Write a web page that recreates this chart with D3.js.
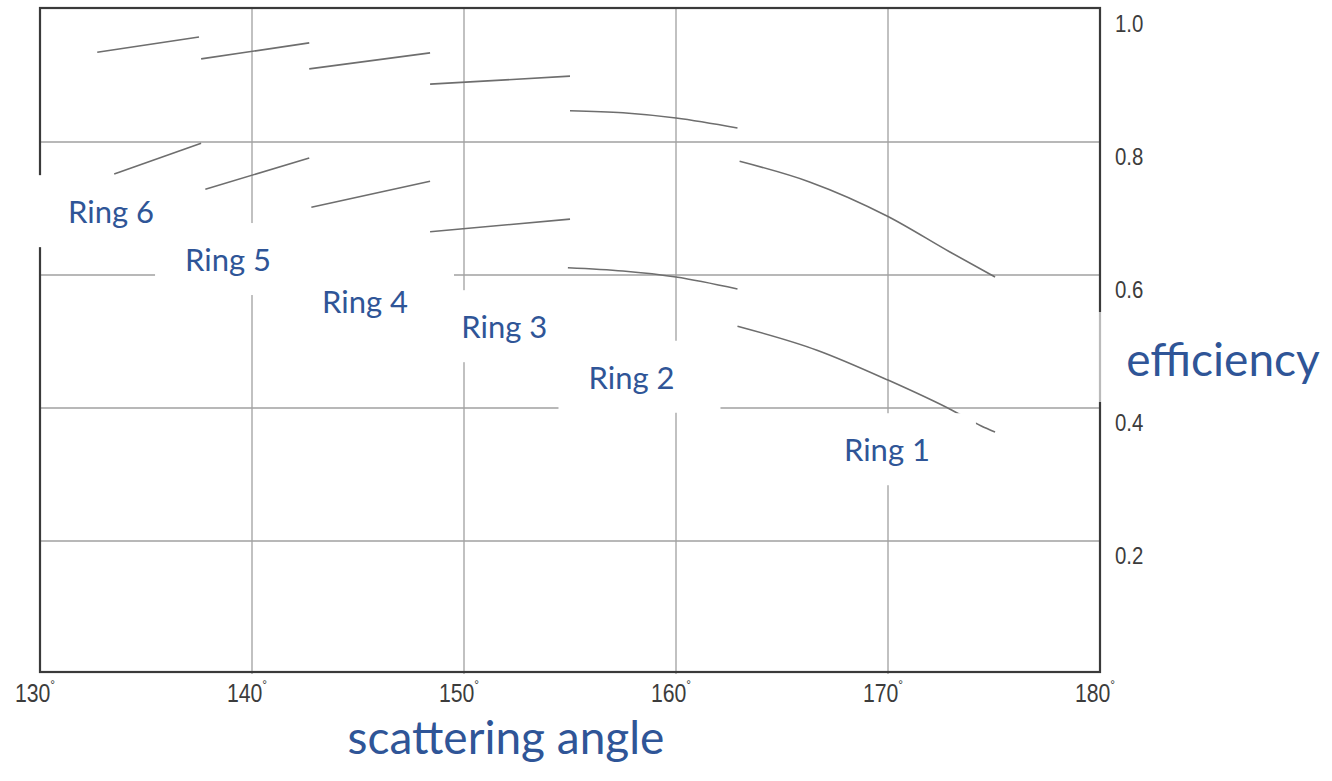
<!DOCTYPE html>
<html>
<head>
<meta charset="utf-8">
<script src="https://cdn.jsdelivr.net/npm/d3@7"></script>
<style>
  html, body { margin: 0; padding: 0; background: #fff; }
  svg { display: block; }
</style>
</head>
<body>
<svg id="chart" width="1332" height="781"></svg>
<script>
// Detection efficiency of each ring versus scattering angle

const angleTicks = [130, 140, 150, 160, 170, 180];
const efficiencyTicks = [0.2, 0.4, 0.6, 0.8, 1.0];

const rings = ["Ring 1", "Ring 2", "Ring 3", "Ring 4", "Ring 5", "Ring 6"];

// upper branch: [scattering angle (deg), efficiency]
const upperRing1 = [[163.0, 0.771], [166.3, 0.740], [170.0, 0.688], [172.9, 0.635], [175.05, 0.597]];
const upperRing2 = [[155.0, 0.847], [157.5, 0.844], [160.0, 0.836], [162.9, 0.821]];
const upperRing3 = [[148.4, 0.887], [155.0, 0.899]];
const upperRing4 = [[142.7, 0.910], [148.4, 0.934]];
const upperRing5 = [[137.6, 0.925], [142.7, 0.949]];
const upperRing6 = [[132.7, 0.935], [137.5, 0.958]];

// lower branch
const lowerRing1 = [[162.9, 0.523], [166.65, 0.487], [170.0, 0.442], [173.0, 0.397], [174.4, 0.373], [175.05, 0.364]];
const lowerRing2 = [[154.9, 0.611], [157.5, 0.606], [160.0, 0.597], [162.9, 0.579]];
const lowerRing3 = [[148.4, 0.665], [155.0, 0.684]];
const lowerRing4 = [[142.8, 0.702], [148.4, 0.741]];
const lowerRing5 = [[137.8, 0.729], [142.7, 0.776]];
const lowerRing6 = [[133.5, 0.752], [137.6, 0.798]];

// where each ring name sits, in [angle, efficiency]
const ringLabelAt = [[169.95, 0.338], [157.9, 0.447], [151.9, 0.523], [145.33, 0.561], [138.87, 0.624], [133.35, 0.696]];

const upperCurves = [upperRing1, upperRing2, upperRing3, upperRing4, upperRing5, upperRing6];
const lowerCurves = [lowerRing1, lowerRing2, lowerRing3, lowerRing4, lowerRing5, lowerRing6];

const svg = d3.select("#chart");
const plot = { left: 40, right: 1100, top: 9, bottom: 674 };

const x = d3.scaleLinear().domain([130, 180]).range([plot.left, plot.right]);
const y = d3.scaleLinear().domain([0, 1]).range([plot.bottom, plot.top]);

const gridColor = "#a0a0a0";
const frameColor = "#3a3a3a";
const curveColor = "#6e6e6e";
const blue = "#2f5597";
const tickFont = "'Liberation Sans', Arial, sans-serif";
const tickSquash = 0.85;

// grid
const grid = svg.append("g");
grid.selectAll("line.v").data(angleTicks.slice(1, -1)).join("line")
  .attr("x1", d => x(d)).attr("x2", d => x(d))
  .attr("y1", plot.top).attr("y2", plot.bottom)
  .attr("stroke", gridColor).attr("stroke-width", 1.3);
grid.selectAll("line.h").data(efficiencyTicks.slice(0, -1)).join("line")
  .attr("x1", plot.left).attr("x2", plot.right)
  .attr("y1", d => y(d)).attr("y2", d => y(d))
  .attr("stroke", gridColor).attr("stroke-width", 1.3);

// curves
const line = d3.line().x(d => x(d[0])).y(d => y(d[1])).curve(d3.curveMonotoneX);
svg.append("g").selectAll("path")
  .data(upperCurves.concat(lowerCurves)).join("path")
  .attr("d", line)
  .attr("fill", "none")
  .attr("stroke", curveColor)
  .attr("stroke-width", 1.6);

// frame
const frame = svg.append("g").attr("stroke", frameColor).attr("stroke-width", 2.2).attr("fill", "none");
frame.append("rect")
  .attr("x", x(130)).attr("y", y(1) - 1)
  .attr("width", x(180) - x(130)).attr("height", y(0) - y(1) - 1);

// x tick labels with degree marks (narrow digits)
const xl = svg.append("g")
  .attr("font-family", tickFont)
  .attr("font-size", 25).attr("fill", "#3c3c3c")
  .selectAll("text").data(angleTicks).join("text")
  .attr("transform", d => `translate(${x(d) - 5},702) scale(${tickSquash},1)`)
  .attr("text-anchor", "middle");
xl.append("tspan").text(d => d);
xl.append("tspan").text("°").attr("font-size", 14).attr("dy", -12);

// y tick labels on the right
svg.append("g")
  .attr("font-family", tickFont)
  .attr("font-size", 24).attr("fill", "#3c3c3c")
  .selectAll("text").data(efficiencyTicks).join("text")
  .attr("transform", d => `translate(${plot.right + 15},${y(d) + 23}) scale(${tickSquash},1)`)
  .text(d => d.toFixed(1));

// ring labels on white cards
const labels = svg.append("g").attr("font-family", "Lato, 'Open Sans', sans-serif")
  .attr("font-size", 31).attr("fill", blue);
rings.forEach((name, i) => {
  const [a, e] = ringLabelAt[i];
  const g = labels.append("g");
  const card = g.append("rect").attr("fill", "#fff");
  const t = g.append("text")
    .attr("x", x(a)).attr("y", y(e))
    .attr("text-anchor", "middle")
    .attr("dominant-baseline", "central")
    .text(name);
  const bb = t.node().getBBox();
  const cy = y(e);
  card.attr("x", bb.x - 30).attr("y", cy - 36)
    .attr("width", bb.width + 76).attr("height", 72);
});

// axis titles
const effG = svg.append("g");
effG.append("rect").attr("x", 1090).attr("y", 312).attr("width", 242).attr("height", 90)
  .attr("fill", "#fff").attr("fill-opacity", 0.65);
effG.append("text")
  .attr("x", 1223).attr("y", 358)
  .attr("text-anchor", "middle").attr("dominant-baseline", "central")
  .attr("font-family", "Lato, 'Open Sans', sans-serif")
  .attr("font-size", 46).attr("fill", blue)
  .text("efficiency");

svg.append("text")
  .attr("x", 506).attr("y", 754)
  .attr("text-anchor", "middle")
  .attr("font-family", "Lato, 'Open Sans', sans-serif")
  .attr("font-size", 46).attr("fill", blue)
  .text("scattering angle");
</script>
</body>
</html>
